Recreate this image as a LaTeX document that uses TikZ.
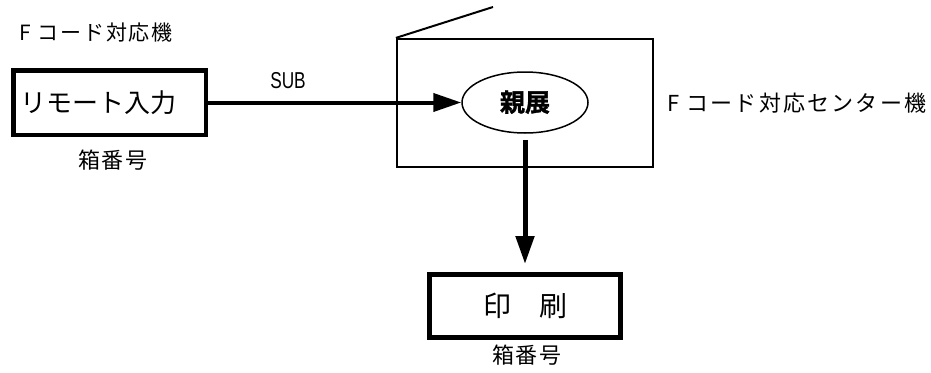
\documentclass[tikz,border=0pt]{standalone}
\usepackage{fontspec}
\newfontfamily\jp{Noto Sans CJK JP}
\newfontfamily\jpheavy[FakeBold=1.2]{Noto Sans CJK JP Bold}
\newfontfamily\lat{Liberation Sans}
\usetikzlibrary{arrows.meta,shapes.geometric}
\begin{document}
\begin{tikzpicture}[x=1pt,y=-1pt,
  lbl/.style={inner sep=0pt,font=\jp},
  thickbox/.style={draw,rectangle,inner sep=0pt},
  arr/.style={-{Triangle[length=28pt,width=18pt]}},
]
\useasboundingbox (0,0) rectangle (931,372);
% center machine frame
\node[thickbox,line width=2.2pt,minimum width=256pt,minimum height=128pt] (frame) at (525,103) {};
\coordinate (slant) at (493,7);
\draw[line width=2pt] (frame.north west) -- (slant);
% labels
\node[lbl,anchor=west,font=\jp\fontsize{21}{21}\selectfont\addfontfeature{LetterSpace=9}] (lab1) at (19,33) {F コード対応機};
\node[lbl,anchor=west,font=\jp\fontsize{22}{22}\selectfont\addfontfeature{LetterSpace=10}] (lab2) at (667,103) {F コード対応センター機};
% remote input box
\node[thickbox,line width=4.5pt,minimum width=192.5pt,minimum height=64.5pt,text width=179pt,align=left,inner xsep=6.75pt,font=\jp\fontsize{26}{26}\selectfont] (remote) at (109.5,102.5) {リモート入力};
\node[lbl,font=\jp\fontsize{22}{22}\selectfont\addfontfeature{LetterSpace=5}] (box1) at (113,160) {箱番号};
% SUB label
\node[inner sep=0pt,font=\lat\fontsize{23}{23}\selectfont] (sub) at (288,81) {\scalebox{0.75}[1]{SUB}};
% ellipse
\node[draw,ellipse,line width=1.5pt,minimum width=126pt,minimum height=61pt,inner sep=0pt,font=\jpheavy\fontsize{25}{25}\selectfont] (oyaten) at (525,102.5) {\raisebox{3pt}{親展}};
% print box
\node[thickbox,line width=5pt,minimum width=191pt,minimum height=63pt,font=\jp\fontsize{28}{28}\selectfont] (print) at (525,306) {印　刷};
\node[lbl,font=\jp\fontsize{22}{22}\selectfont\addfontfeature{LetterSpace=5}] (box2) at (527,355) {箱番号};
% connectors
\draw[arr,line width=4pt] (remote.east) -- (oyaten.west);
\draw[arr,line width=5pt,shorten <=6pt,shorten >=8pt] (oyaten.south) -- (print.north);
\end{tikzpicture}
\end{document}
